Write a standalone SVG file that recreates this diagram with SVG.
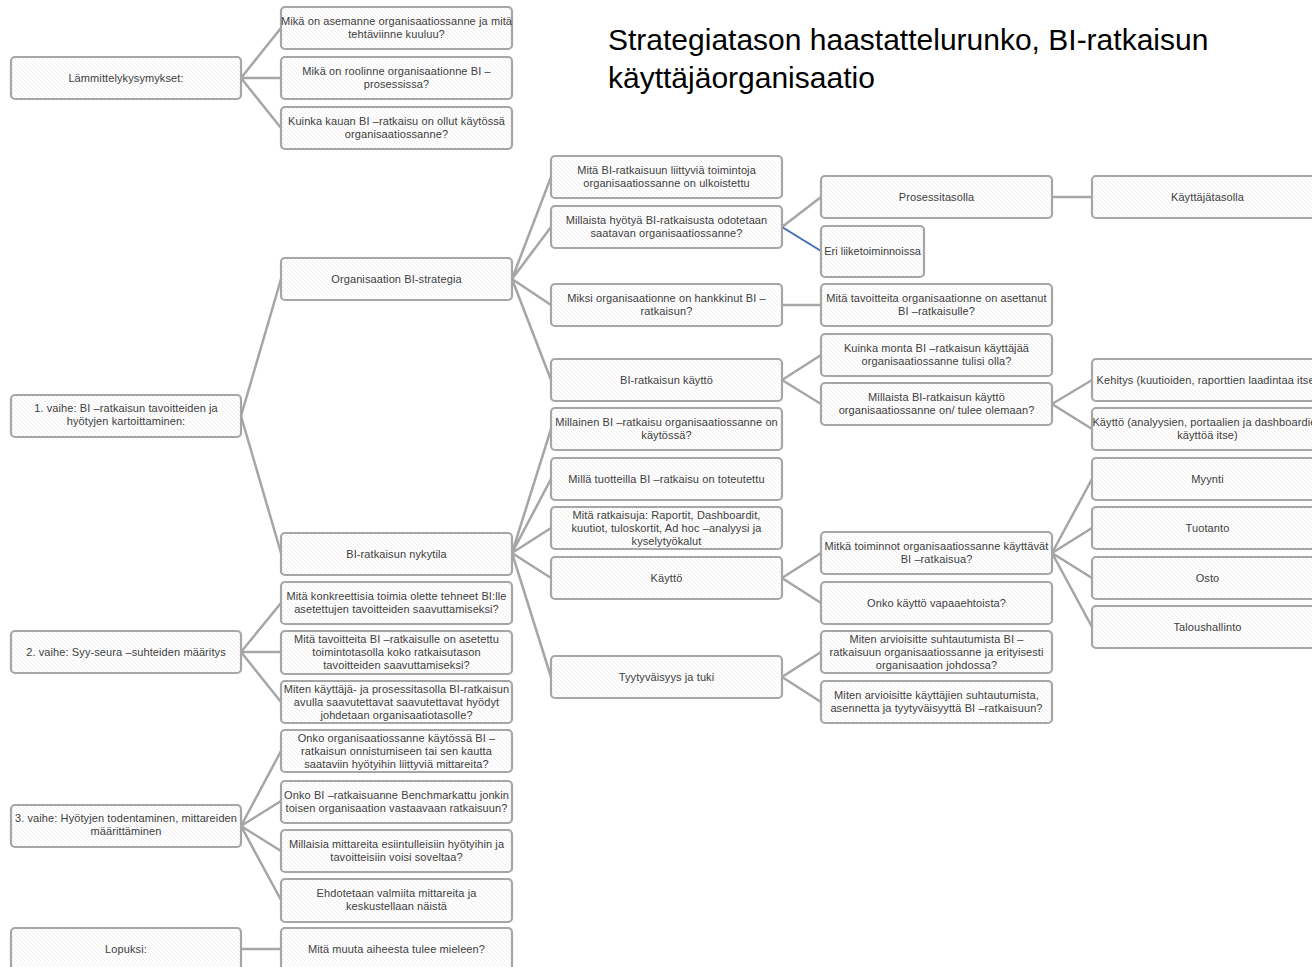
<svg xmlns="http://www.w3.org/2000/svg" width="1312" height="967" viewBox="0 0 1312 967">
  <defs>
    <pattern id="hatch" patternUnits="userSpaceOnUse" width="4" height="4">
      <rect width="4" height="4" fill="#ffffff"/>
      <path d="M-1,-1 L5,5 M-1,3 L1,5 M3,-1 L5,1" stroke="#ebebeb" stroke-width="0.8"/>
    </pattern>
  </defs>
  <style>
    .box { fill: url(#hatch); stroke: #a6a6a6; stroke-width: 2.2; }
    .t { font-family: "Liberation Sans", Arial, sans-serif; font-size: 11px; letter-spacing: 0.1px; fill: #404040; text-anchor: middle; }
    .title { font-family: "Liberation Sans", Arial, sans-serif; font-size: 30px; fill: #000000; }
    .ln { stroke: #a6a6a6; stroke-width: 2.5; fill: none; }
    .lnb { stroke: #3f6fb5; stroke-width: 2; fill: none; }
  </style>
  <rect width="1312" height="967" fill="#ffffff"/>

  <!-- title -->
  <g id="title">
    <text class="title" x="608" y="50">Strategiatason haastattelurunko, BI-ratkaisun</text>
    <text class="title" x="608" y="88">käyttäjäorganisaatio</text>
  </g>

  <!-- connectors -->
  <g id="connectors">
    <path class="ln" d="M241,78 L281,28 M241,78 L281,78 M241,78 L281,128"/>
    <path class="ln" d="M241,416 L281,279 M241,416 L281,553"/>
    <path class="ln" d="M512,279 L551,177 M512,279 L551,227 M512,279 L551,305 M512,279 L551,380"/>
    <path class="ln" d="M512,553 L551,429 M512,553 L551,479 M512,553 L551,528 M512,553 L551,578 M512,553 L551,677"/>
    <path class="ln" d="M782,227 L821,197"/>
    <path class="lnb" d="M782,227 L821,251"/>
    <path class="ln" d="M1052,197 L1092,197"/>
    <path class="ln" d="M782,305 L821,305"/>
    <path class="ln" d="M782,380 L821,355 M782,380 L821,404"/>
    <path class="ln" d="M1052,404 L1092,380 M1052,404 L1092,429"/>
    <path class="ln" d="M782,578 L821,553 M782,578 L821,603"/>
    <path class="ln" d="M782,677 L821,652 M782,677 L821,702"/>
    <path class="ln" d="M1052,553 L1092,479 M1052,553 L1092,528 M1052,553 L1092,578 M1052,553 L1092,627"/>
    <path class="ln" d="M241,652 L281,603 M241,652 L281,652 M241,652 L281,702"/>
    <path class="ln" d="M241,826 L281,751 M241,826 L281,801 M241,826 L281,851 M241,826 L281,900"/>
    <path class="ln" d="M241,949 L281,949"/>
  </g>

  <!-- column 1 -->
  <g id="n-lammittely"><rect class="box" x="11" y="57" width="230" height="42" rx="4"/>
    <text class="t" x="126" y="81.5">Lämmittelykysymykset:</text></g>
  <g id="n-vaihe1"><rect class="box" x="11" y="395" width="230" height="42" rx="4"/>
    <text class="t" x="126" y="412">1. vaihe: BI –ratkaisun tavoitteiden ja</text>
    <text class="t" x="126" y="425">hyötyjen kartoittaminen:</text></g>
  <g id="n-vaihe2"><rect class="box" x="11" y="631" width="230" height="42" rx="4"/>
    <text class="t" x="126" y="655.5">2. vaihe: Syy-seura –suhteiden määritys</text></g>
  <g id="n-vaihe3"><rect class="box" x="11" y="805" width="230" height="42" rx="4"/>
    <text class="t" x="126" y="822">3. vaihe: Hyötyjen todentaminen, mittareiden</text>
    <text class="t" x="126" y="835">määrittäminen</text></g>
  <g id="n-lopuksi"><rect class="box" x="11" y="928" width="230" height="42" rx="4"/>
    <text class="t" x="126" y="952.5">Lopuksi:</text></g>

  <!-- column 2 -->
  <g id="n-asema"><rect class="box" x="281" y="7" width="231" height="42" rx="4"/>
    <text class="t" x="396.5" y="24.5">Mikä on asemanne organisaatiossanne ja mitä</text>
    <text class="t" x="396.5" y="37.5">tehtäviinne kuuluu?</text></g>
  <g id="n-rooli"><rect class="box" x="281" y="57" width="231" height="42" rx="4"/>
    <text class="t" x="396.5" y="74.5">Mikä on roolinne organisaationne BI –</text>
    <text class="t" x="396.5" y="87.5">prosessissa?</text></g>
  <g id="n-kauan"><rect class="box" x="281" y="107" width="231" height="42" rx="4"/>
    <text class="t" x="396.5" y="124.5">Kuinka kauan BI –ratkaisu on ollut käytössä</text>
    <text class="t" x="396.5" y="137.5">organisaatiossanne?</text></g>
  <g id="n-strategia"><rect class="box" x="281" y="258" width="231" height="42" rx="4"/>
    <text class="t" x="396.5" y="282.5">Organisaation BI-strategia</text></g>
  <g id="n-nykytila"><rect class="box" x="281" y="533" width="231" height="42" rx="4"/>
    <text class="t" x="396.5" y="557.5">BI-ratkaisun nykytila</text></g>
  <g id="n-konkreettisia"><rect class="box" x="281" y="582" width="231" height="42" rx="4"/>
    <text class="t" x="396.5" y="599.5">Mitä konkreettisia toimia olette tehneet BI:lle</text>
    <text class="t" x="396.5" y="612.5">asetettujen tavoitteiden saavuttamiseksi?</text></g>
  <g id="n-tavoitteita-bi"><rect class="box" x="281" y="631" width="231" height="43" rx="4"/>
    <text class="t" x="396.5" y="643">Mitä tavoitteita BI –ratkaisulle on asetettu</text>
    <text class="t" x="396.5" y="656">toimintotasolla koko ratkaisutason</text>
    <text class="t" x="396.5" y="669">tavoitteiden saavuttamiseksi?</text></g>
  <g id="n-johdetaan"><rect class="box" x="281" y="681" width="231" height="42" rx="4"/>
    <text class="t" x="396.5" y="692.5">Miten käyttäjä- ja prosessitasolla BI-ratkaisun</text>
    <text class="t" x="396.5" y="705.5">avulla saavutettavat saavutettavat hyödyt</text>
    <text class="t" x="396.5" y="718.5">johdetaan organisaatiotasolle?</text></g>
  <g id="n-mittareita-kaytossa"><rect class="box" x="281" y="730" width="231" height="42" rx="4"/>
    <text class="t" x="396.5" y="741.5">Onko organisaatiossanne käytössä BI –</text>
    <text class="t" x="396.5" y="754.5">ratkaisun onnistumiseen tai sen kautta</text>
    <text class="t" x="396.5" y="767.5">saataviin hyötyihin liittyviä mittareita?</text></g>
  <g id="n-benchmark"><rect class="box" x="281" y="781" width="231" height="42" rx="4"/>
    <text class="t" x="396.5" y="798.5">Onko BI –ratkaisuanne Benchmarkattu jonkin</text>
    <text class="t" x="396.5" y="811.5">toisen organisaation vastaavaan ratkaisuun?</text></g>
  <g id="n-millaisia-mittareita"><rect class="box" x="281" y="830" width="231" height="42" rx="4"/>
    <text class="t" x="396.5" y="847.5">Millaisia mittareita esiintulleisiin hyötyihin ja</text>
    <text class="t" x="396.5" y="860.5">tavoitteisiin voisi soveltaa?</text></g>
  <g id="n-ehdotetaan"><rect class="box" x="281" y="879" width="231" height="43" rx="4"/>
    <text class="t" x="396.5" y="897">Ehdotetaan valmiita mittareita ja</text>
    <text class="t" x="396.5" y="910">keskustellaan näistä</text></g>
  <g id="n-muuta"><rect class="box" x="281" y="928" width="231" height="42" rx="4"/>
    <text class="t" x="396.5" y="952.5">Mitä muuta aiheesta tulee mieleen?</text></g>

  <!-- column 3 -->
  <g id="n-ulkoistettu"><rect class="box" x="551" y="156" width="231" height="42" rx="4"/>
    <text class="t" x="666.5" y="173.5">Mitä BI-ratkaisuun liittyviä toimintoja</text>
    <text class="t" x="666.5" y="186.5">organisaatiossanne on ulkoistettu</text></g>
  <g id="n-hyotya"><rect class="box" x="551" y="206" width="231" height="42" rx="4"/>
    <text class="t" x="666.5" y="223.5">Millaista hyötyä BI-ratkaisusta odotetaan</text>
    <text class="t" x="666.5" y="236.5">saatavan organisaatiossanne?</text></g>
  <g id="n-miksi"><rect class="box" x="551" y="284" width="231" height="42" rx="4"/>
    <text class="t" x="666.5" y="301.5">Miksi organisaationne on hankkinut BI –</text>
    <text class="t" x="666.5" y="314.5">ratkaisun?</text></g>
  <g id="n-kaytto-bi"><rect class="box" x="551" y="359" width="231" height="42" rx="4"/>
    <text class="t" x="666.5" y="383.5">BI-ratkaisun käyttö</text></g>
  <g id="n-millainen"><rect class="box" x="551" y="408" width="231" height="42" rx="4"/>
    <text class="t" x="666.5" y="425.5">Millainen BI –ratkaisu organisaatiossanne on</text>
    <text class="t" x="666.5" y="438.5">käytössä?</text></g>
  <g id="n-tuotteilla"><rect class="box" x="551" y="458" width="231" height="42" rx="4"/>
    <text class="t" x="666.5" y="482.5">Millä tuotteilla BI –ratkaisu on toteutettu</text></g>
  <g id="n-ratkaisuja"><rect class="box" x="551" y="507" width="231" height="42" rx="4"/>
    <text class="t" x="666.5" y="518.5">Mitä ratkaisuja: Raportit, Dashboardit,</text>
    <text class="t" x="666.5" y="531.5">kuutiot, tuloskortit, Ad hoc –analyysi ja</text>
    <text class="t" x="666.5" y="544.5">kyselytyökalut</text></g>
  <g id="n-kaytto"><rect class="box" x="551" y="557" width="231" height="42" rx="4"/>
    <text class="t" x="666.5" y="581.5">Käyttö</text></g>
  <g id="n-tyytyvaisyys"><rect class="box" x="551" y="656" width="231" height="42" rx="4"/>
    <text class="t" x="666.5" y="680.5">Tyytyväisyys ja tuki</text></g>

  <!-- column 4 -->
  <g id="n-prosessitasolla"><rect class="box" x="821" y="176" width="231" height="42" rx="4"/>
    <text class="t" x="936.5" y="200.5">Prosessitasolla</text></g>
  <g id="n-liiketoiminnoissa"><rect class="box" x="821" y="226" width="103" height="51" rx="4"/>
    <text class="t" x="872.5" y="255" style="letter-spacing:0">Eri liiketoiminnoissa</text></g>
  <g id="n-tavoitteita-org"><rect class="box" x="821" y="284" width="231" height="42" rx="4"/>
    <text class="t" x="936.5" y="301.5">Mitä tavoitteita organisaationne on asettanut</text>
    <text class="t" x="936.5" y="314.5">BI –ratkaisulle?</text></g>
  <g id="n-kuinka-monta"><rect class="box" x="821" y="334" width="231" height="42" rx="4"/>
    <text class="t" x="936.5" y="351.5">Kuinka monta BI –ratkaisun käyttäjää</text>
    <text class="t" x="936.5" y="364.5">organisaatiossanne tulisi olla?</text></g>
  <g id="n-millaista-kaytto"><rect class="box" x="821" y="383" width="231" height="42" rx="4"/>
    <text class="t" x="936.5" y="400.5">Millaista BI-ratkaisun käyttö</text>
    <text class="t" x="936.5" y="413.5">organisaatiossanne on/ tulee olemaan?</text></g>
  <g id="n-toiminnot"><rect class="box" x="821" y="532" width="231" height="42" rx="4"/>
    <text class="t" x="936.5" y="549.5">Mitkä toiminnot organisaatiossanne käyttävät</text>
    <text class="t" x="936.5" y="562.5">BI –ratkaisua?</text></g>
  <g id="n-vapaaehtoista"><rect class="box" x="821" y="582" width="231" height="42" rx="4"/>
    <text class="t" x="936.5" y="606.5">Onko käyttö vapaaehtoista?</text></g>
  <g id="n-suhtautuminen-johto"><rect class="box" x="821" y="631" width="231" height="42" rx="4"/>
    <text class="t" x="936.5" y="642.5">Miten arvioisitte suhtautumista BI –</text>
    <text class="t" x="936.5" y="655.5">ratkaisuun organisaatiossanne ja erityisesti</text>
    <text class="t" x="936.5" y="668.5">organisaation johdossa?</text></g>
  <g id="n-suhtautuminen-kayttajat"><rect class="box" x="821" y="681" width="231" height="42" rx="4"/>
    <text class="t" x="936.5" y="698.5">Miten arvioisitte käyttäjien suhtautumista,</text>
    <text class="t" x="936.5" y="711.5">asennetta ja tyytyväisyyttä BI –ratkaisuun?</text></g>

  <!-- column 5 (runs past the right edge of the page) -->
  <g id="n-kayttajatasolla"><rect class="box" x="1092" y="176" width="231" height="42" rx="4"/>
    <text class="t" x="1207.5" y="200.5">Käyttäjätasolla</text></g>
  <g id="n-kehitys"><rect class="box" x="1092" y="359" width="231" height="42" rx="4"/>
    <text class="t" x="1207.5" y="383.5">Kehitys (kuutioiden, raporttien laadintaa itse)</text></g>
  <g id="n-kaytto-itse"><rect class="box" x="1092" y="408" width="231" height="42" rx="4"/>
    <text class="t" x="1207.5" y="425.5">Käyttö (analyysien, portaalien ja dashboardien</text>
    <text class="t" x="1207.5" y="438.5">käyttöä itse)</text></g>
  <g id="n-myynti"><rect class="box" x="1092" y="458" width="231" height="42" rx="4"/>
    <text class="t" x="1207.5" y="482.5">Myynti</text></g>
  <g id="n-tuotanto"><rect class="box" x="1092" y="507" width="231" height="42" rx="4"/>
    <text class="t" x="1207.5" y="531.5">Tuotanto</text></g>
  <g id="n-osto"><rect class="box" x="1092" y="557" width="231" height="42" rx="4"/>
    <text class="t" x="1207.5" y="581.5">Osto</text></g>
  <g id="n-taloushallinto"><rect class="box" x="1092" y="606" width="231" height="42" rx="4"/>
    <text class="t" x="1207.5" y="630.5">Taloushallinto</text></g>
</svg>
